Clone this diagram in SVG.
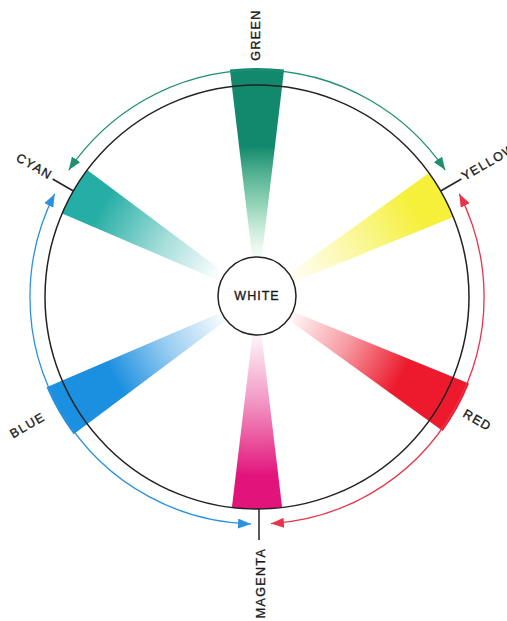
<svg xmlns="http://www.w3.org/2000/svg" width="507" height="621" viewBox="0 0 507 621">
<style>
.lbl{font-family:"Liberation Sans",Arial,sans-serif;font-size:12.5px;letter-spacing:1.4px;fill:#1a1a1a;stroke:#1a1a1a;stroke-width:0.35;dominant-baseline:middle;text-anchor:middle}
.ring{fill:none;stroke:#222;stroke-width:1.5}
.tick{stroke:#222;stroke-width:1.5}
.arc{fill:none;stroke-width:1.3}
</style>
<defs>
<radialGradient id="gG" gradientUnits="userSpaceOnUse" cx="257" cy="297" r="229"><stop offset="0.15" stop-color="#8fdca6" stop-opacity="0"/><stop offset="0.4" stop-color="#4cb88a" stop-opacity="0.6"/><stop offset="0.66" stop-color="#12896c" stop-opacity="1"/></radialGradient>
<radialGradient id="gC" gradientUnits="userSpaceOnUse" cx="257" cy="297" r="212"><stop offset="0.2" stop-color="#25aea5" stop-opacity="0"/><stop offset="0.5" stop-color="#25aea5" stop-opacity="0.4"/><stop offset="0.85" stop-color="#25aea5" stop-opacity="1"/></radialGradient>
<radialGradient id="gY" gradientUnits="userSpaceOnUse" cx="257" cy="297" r="212"><stop offset="0.15" stop-color="#f6f03a" stop-opacity="0"/><stop offset="0.5" stop-color="#f6f03a" stop-opacity="0.45"/><stop offset="0.85" stop-color="#f6f03a" stop-opacity="1"/></radialGradient>
<radialGradient id="gR" gradientUnits="userSpaceOnUse" cx="257" cy="297" r="229"><stop offset="0.15" stop-color="#ec1a2c" stop-opacity="0"/><stop offset="0.45" stop-color="#ec1a2c" stop-opacity="0.45"/><stop offset="0.72" stop-color="#ec1a2c" stop-opacity="1"/></radialGradient>
<radialGradient id="gM" gradientUnits="userSpaceOnUse" cx="257" cy="297" r="212"><stop offset="0.15" stop-color="#e2137a" stop-opacity="0"/><stop offset="0.5" stop-color="#e2137a" stop-opacity="0.45"/><stop offset="0.85" stop-color="#e2137a" stop-opacity="1"/></radialGradient>
<radialGradient id="gB" gradientUnits="userSpaceOnUse" cx="257" cy="297" r="229"><stop offset="0.15" stop-color="#1b8fe0" stop-opacity="0"/><stop offset="0.45" stop-color="#1b8fe0" stop-opacity="0.45"/><stop offset="0.72" stop-color="#1b8fe0" stop-opacity="1"/></radialGradient>
<path id="wP" d="M257,297 L229.9,69.6 A229,229 0 0 1 284.1,69.6 Z"/>
<path id="wS" d="M257,297 L231.9,86.5 A212,212 0 0 1 282.1,86.5 Z"/>
<marker id="aG" markerUnits="userSpaceOnUse" markerWidth="14" markerHeight="10" refX="13" refY="5" orient="auto-start-reverse"><path d="M0,0 L13,5 L0,10 Z" fill="#1f8f72"/></marker>
<marker id="aB" markerUnits="userSpaceOnUse" markerWidth="14" markerHeight="10" refX="13" refY="5" orient="auto-start-reverse"><path d="M0,0 L13,5 L0,10 Z" fill="#2a92e0"/></marker>
<marker id="aR" markerUnits="userSpaceOnUse" markerWidth="14" markerHeight="10" refX="13" refY="5" orient="auto-start-reverse"><path d="M0,0 L13,5 L0,10 Z" fill="#e8334a"/></marker>
</defs>
<rect width="507" height="621" fill="#fff"/>
<g id="green"><use href="#wP" fill="url(#gG)"/><text class="lbl" transform="translate(257,35) rotate(-90)">GREEN</text></g>
<g id="yellow"><use href="#wS" fill="url(#gY)" transform="rotate(61 257 297)"/><line class="tick" x1="440.6" y1="191" x2="461.4" y2="179"/><text class="lbl" style="text-anchor:start" transform="translate(463,178) rotate(-30)">YELLOW</text></g>
<g id="red"><use href="#wP" fill="url(#gR)" transform="rotate(119 257 297)"/><text class="lbl" transform="translate(477,421) rotate(30)">RED</text></g>
<g id="magenta"><use href="#wS" fill="url(#gM)" transform="rotate(180 257 297)"/><line class="tick" x1="259" y1="509" x2="259" y2="540"/><text class="lbl" transform="translate(262,583) rotate(-90)">MAGENTA</text></g>
<g id="blue"><use href="#wP" fill="url(#gB)" transform="rotate(240 257 297)"/><text class="lbl" transform="translate(28,426) rotate(-30)">BLUE</text></g>
<g id="cyan"><use href="#wS" fill="url(#gC)" transform="rotate(300 257 297)"/><line class="tick" x1="73.4" y1="191" x2="52.6" y2="179"/><text class="lbl" style="text-anchor:end" transform="translate(51,177) rotate(30)">CYAN</text></g>
<circle class="ring" cx="257" cy="297" r="212"/>
<g id="white"><circle cx="257" cy="296" r="39" fill="#fff" stroke="#222" stroke-width="1.5"/><text class="lbl" x="257" y="297" style="letter-spacing:1px">WHITE</text></g>
<g id="connectors">
<path class="arc" stroke="#1f8f72" d="M68.8,170.1 A227,227 0 0 1 445.2,170.1" marker-start="url(#aG)" marker-end="url(#aG)"/>
<path class="arc" stroke="#2a92e0" d="M54.7,193.9 A227,227 0 0 0 251.1,523.9" marker-start="url(#aB)" marker-end="url(#aB)"/>
<path class="arc" stroke="#e8334a" d="M459.3,193.9 A227,227 0 0 1 270.9,523.6" marker-start="url(#aR)" marker-end="url(#aR)"/>
</g>
</svg>
